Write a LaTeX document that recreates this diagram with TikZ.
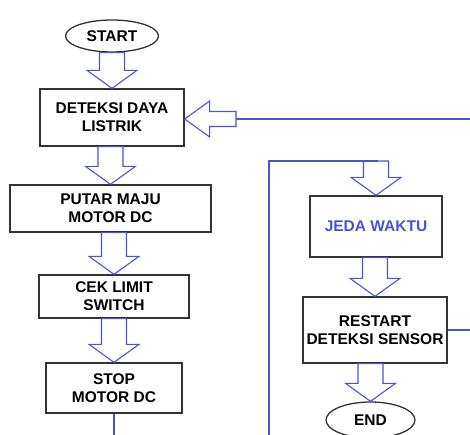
\documentclass[tikz,border=0pt]{standalone}
\usepackage{fontspec}
\setmainfont{Liberation Sans}
\usetikzlibrary{shapes.geometric,calc}
\definecolor{flowblue}{RGB}{72,84,214}
\tikzset{
  box/.style={draw=black!80,line width=1.3pt,fill=white,align=center,inner sep=0pt,
    font=\fontsize{15.5}{18}\selectfont\bfseries},
  term/.style={box,ellipse},
  flow/.style={draw=flowblue,line width=1.1pt},
  blk/.style={draw=flowblue,line width=1.1pt,fill=white,line join=miter}
}
\newcommand{\blkdown}[2]{\draw[blk] let \p1=(#1),\p2=(#2) in
  (\x2-12.5pt,\y1) -- (\x2-12.5pt,\y2+18pt) -- (\x2-25pt,\y2+18pt) -- (\x2,\y2)
  -- (\x2+25pt,\y2+18pt) -- (\x2+12.5pt,\y2+18pt) -- (\x2+12.5pt,\y1) -- cycle;}
\newcommand{\blkleft}[2]{\draw[blk] let \p1=(#1),\p2=(#2) in
  (\x1,\y1+7.5pt) -- (\x2+25pt,\y1+7.5pt) -- (\x2+25pt,\y1+18pt) -- (\x2,\y1)
  -- (\x2+25pt,\y1-18pt) -- (\x2+25pt,\y1-7.5pt) -- (\x1,\y1-7.5pt) -- cycle;}
\begin{document}
\begin{tikzpicture}[x=1pt,y=-1pt]
    \useasboundingbox (0,0) rectangle (470,435);
    \clip (0,0) rectangle (470,435);

    \node[term,minimum width=93,minimum height=32] (start) at (112,36) {START};
    \node[box,minimum width=144,minimum height=57] (dly) at (112,117.5) {DETEKSI DAYA\\LISTRIK};
    \node[box,minimum width=201,minimum height=47] (putar) at (110.5,208.5) {PUTAR MAJU\\MOTOR DC};
    \node[box,minimum width=150,minimum height=43] (cek) at (114,296.5) {CEK LIMIT\\SWITCH};
    \node[box,minimum width=136,minimum height=50] (stop) at (114,388) {STOP\\MOTOR DC};

    \node[box,minimum width=132,minimum height=61,text=flowblue] (jeda) at (376,226.5) {JEDA WAKTU};
    \node[box,minimum width=144,minimum height=66] (restart) at (375,330) {RESTART\\DETEKSI SENSOR};
    \node[term,minimum width=89,minimum height=36] (end) at (370.5,420) {END};

    \coordinate (fb) at (236,119);
    \coordinate (fbright) at (472,119);
    \coordinate (stopout) at (114,440);
    \coordinate (loopbot) at (269,440);
    \coordinate (looptop) at (269,161);
    \coordinate (jedain) at (377.5,161);
    \coordinate (rsout) at (472,330);

    \blkdown{start.south}{dly.north}
    \blkdown{dly.south}{putar.north}
    \blkdown{putar.south}{cek.north}
    \blkdown{cek.south}{stop.north}
    \blkdown{jedain}{jeda.north}
    \blkdown{jeda.south}{restart.north}
    \blkdown{restart.south}{end.north}

    \draw[flow] (fbright) -- (fb);
    \blkleft{fb}{dly.east}
    \draw[flow] (stop.south) -- (stopout);
    \draw[flow] (loopbot) -- (looptop) -- (jedain);
    \draw[flow] (restart.east) -- (rsout);
\end{tikzpicture}
\end{document}
